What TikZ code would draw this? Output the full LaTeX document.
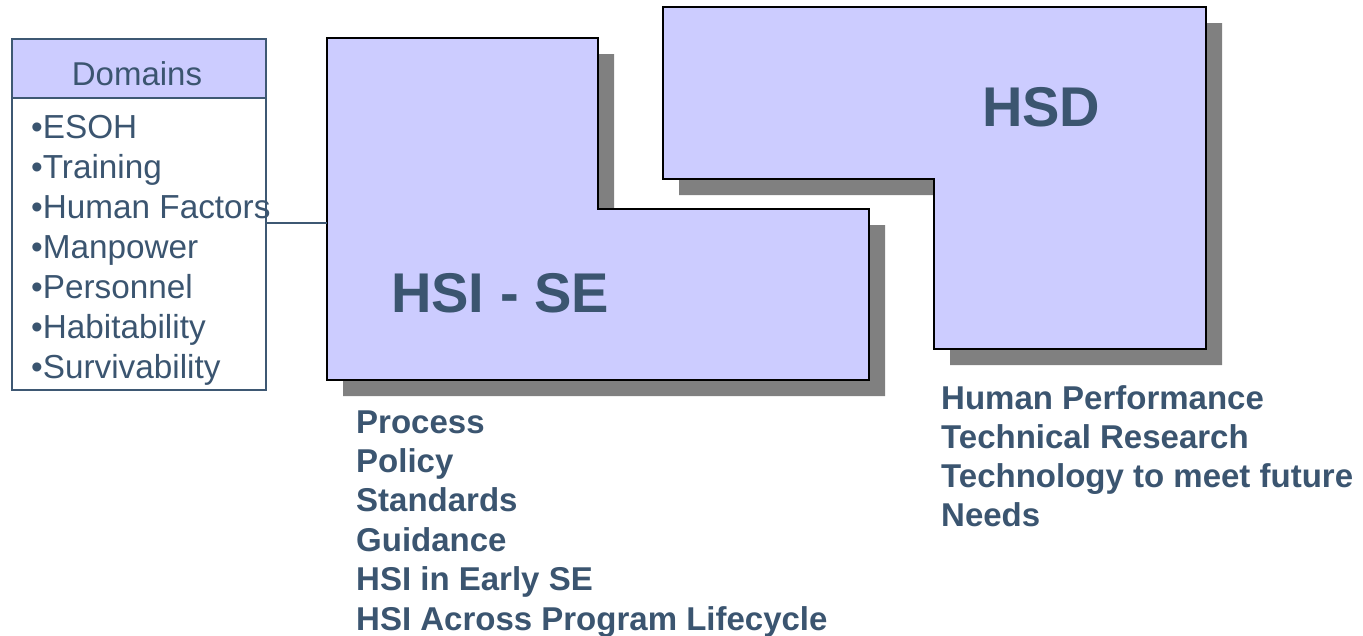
\documentclass[tikz,border=0pt]{standalone}
\usepackage{fontspec}
\setmainfont{Liberation Sans}
\definecolor{boxfill}{HTML}{CCCCFF}
\definecolor{shadowgray}{HTML}{808080}
\definecolor{txt}{HTML}{3B5570}
\definecolor{domline}{HTML}{3E5873}
\tikzset{
  shapebox/.style={fill=boxfill, draw=black, line width=1.5pt, line join=miter},
  shadowbox/.style={fill=shadowgray, draw=none},
  domtext/.style={anchor=base west, inner sep=0pt, text=txt, font=\fontsize{33.3}{38}\selectfont},
  listtext/.style={anchor=base west, inner sep=0pt, text=txt, font=\bfseries\fontsize{33}{38}\selectfont},
  bigtext/.style={anchor=base west, inner sep=0pt, text=txt, font=\bfseries\fontsize{56}{60}\selectfont},
}
\begin{document}
\begin{tikzpicture}[x=1pt,y=-1pt]
\useasboundingbox (0,0) rectangle (1363,635);
% shadows
\fill[shadowbox] (343,54) -- (614,54) -- (614,225) -- (885,225) -- (885,396) -- (343,396) -- cycle;
\fill[shadowbox] (679,23) -- (1222,23) -- (1222,365) -- (950,365) -- (950,195) -- (679,195) -- cycle;
% HSI - SE shape
\draw[shapebox] (327,38) -- (598,38) -- (598,209) -- (869,209) -- (869,380) -- (327,380) -- cycle;
% HSD shape
\draw[shapebox] (663,7) -- (1206,7) -- (1206,349) -- (934,349) -- (934,179) -- (663,179) -- cycle;
\node[bigtext] (hsise) at (391,312) {HSI - SE};
\node[bigtext] (hsd) at (982,126) {HSD};
% Domains box
\fill[boxfill] (11,38) rectangle (265,98);
\node[draw=domline, line width=1.5pt, inner sep=0pt, minimum width=254pt, minimum height=351pt, anchor=north west] (dom) at (11,38) {};
\draw[domline, line width=1.5pt] (11,98) -- (265,98);
\node[anchor=base, inner sep=0pt, text=txt, font=\fontsize{33}{36}\selectfont] (domtitle) at (137,85) {Domains};
\foreach \t [count=\i] in {ESOH,Training,Human Factors,Manpower,Personnel,Habitability,Survivability}
  \node[domtext] (d\i) at (31,{98+40*\i}) {•\t};
% connector
\coordinate (domR) at (265,223);
\coordinate (hsiL) at (327,223);
\draw[domline, line width=1.2pt] (domR) -- (hsiL);
% lists
\foreach \t [count=\i] in {Process,Policy,Standards,Guidance,HSI in Early SE,HSI Across Program Lifecycle}
  \node[listtext] (l\i) at (356,{433+39.4*(\i-1)}) {\t};
\foreach \t [count=\i] in {Human Performance,Technical Research,Technology to meet future,Needs}
  \node[listtext] (r\i) at (941,{409.5+39.1*(\i-1)}) {\t};
\end{tikzpicture}
\end{document}
